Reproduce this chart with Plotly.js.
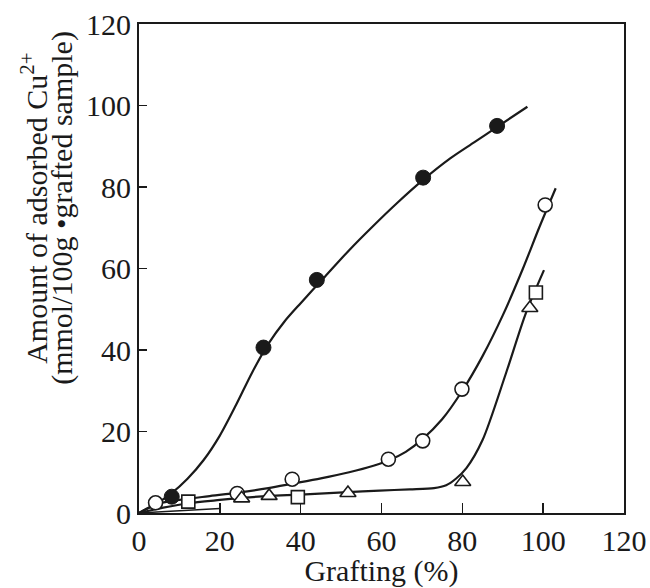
<!DOCTYPE html>
<html>
<head>
<meta charset="utf-8">
<script src="https://cdn.plot.ly/plotly-3.0.1.min.js"></script>
<style>html,body{margin:0;padding:0;background:#fff;}#chart{width:650px;height:588px;}</style>
</head>
<body>
<div id="chart"></div>
<script>
// Measured points
const filledX = [8.1, 30.8, 44.0, 70.3, 88.6];
const filledY = [4.0, 40.6, 57.2, 82.3, 95.0];
const openX = [4.1, 24.3, 37.9, 61.7, 70.2, 79.9, 100.5];
const openY = [2.5, 4.8, 8.3, 13.2, 17.7, 30.4, 75.6];
const squareX = [12.2, 39.3, 98.2];
const squareY = [2.8, 3.9, 54.1];
const triX = [25.4, 32.2, 51.7, 80.1, 96.7];
const triY = [3.6, 4.2, 4.9, 7.6, 50.3];

// Fitted curves
const fitFilledX = [0, 4, 8, 12, 16, 20, 24, 28, 32, 36, 40, 46, 52, 58, 64, 70, 77, 83, 89, 96.1];
const fitFilledY = [0, 2.1, 4.8, 8.4, 13.0, 19.0, 26.5, 34.5, 41.5, 47.0, 51.5, 58.0, 64.5, 70.5, 76.2, 81.5, 87.0, 91.0, 95.0, 99.7];
const fitOpenX = [0, 4, 10, 17, 24.5, 32, 38, 45, 52, 58, 62, 66, 70, 75, 80, 85, 90, 95, 99, 103.1];
const fitOpenY = [0, 2.1, 3.2, 4.1, 5.0, 6.1, 7.2, 8.5, 10.0, 11.6, 13.0, 15.0, 18.0, 23.0, 30.0, 38.5, 48.5, 60.0, 70.0, 79.7];
const fitLowX = [0, 6, 12.2, 20, 25.4, 32.2, 40, 51.7, 59.5, 67, 73, 76, 78.4, 81, 85, 90.8, 95.7, 100.2];
const fitLowY = [0, 1.3, 2.4, 3.2, 3.7, 4.2, 4.5, 5.1, 5.5, 5.8, 6.1, 6.8, 8.4, 11.0, 17.9, 34.3, 49.0, 59.6];
const fitBaseX = [0, 8, 16, 20];
const fitBaseY = [0, 0.5, 0.9, 1.1];

const xTicks = [0, 20, 40, 60, 80, 100, 120];
const yTicks = [0, 20, 40, 60, 80, 100, 120];

const lineStyle = {color: '#1a1a1a', width: 2.2, shape: 'spline', smoothing: 0.8};
const traces = [
  {x: fitBaseX, y: fitBaseY, mode: 'lines', line: {color: '#1a1a1a', width: 1.5}, hoverinfo: 'skip'},
  {x: fitFilledX, y: fitFilledY, mode: 'lines', line: lineStyle},
  {x: fitOpenX, y: fitOpenY, mode: 'lines', line: lineStyle},
  {x: fitLowX, y: fitLowY, mode: 'lines', line: lineStyle},
  {x: filledX, y: filledY, mode: 'markers', marker: {symbol: 'circle', size: 15, color: '#1a1a1a', line: {color: '#1a1a1a', width: 1}}},
  {x: openX, y: openY, mode: 'markers', marker: {symbol: 'circle', size: 14, color: '#ffffff', line: {color: '#1a1a1a', width: 1.6}}},
  {x: squareX, y: squareY, mode: 'markers', marker: {symbol: 'square', size: 13, color: '#ffffff', line: {color: '#1a1a1a', width: 1.6}}},
  {x: triX, y: triY, mode: 'markers', marker: {symbol: 'triangle-up', size: 14, color: '#ffffff', line: {color: '#1a1a1a', width: 1.6}}}
];

const font = {family: '"Liberation Serif", "Times New Roman", serif', color: '#1a1a1a'};
const layout = {
  width: 650, height: 588,
  margin: {l: 139, r: 26, t: 24, b: 75},
  paper_bgcolor: '#fff', plot_bgcolor: '#fff',
  showlegend: false,
  font: Object.assign({size: 30}, font),
  xaxis: {
    range: [0, 120], tickvals: xTicks, ticktext: xTicks.map(String),
    ticks: 'inside', ticklen: 10, tickwidth: 1.5, tickcolor: '#1a1a1a',
    showline: true, linecolor: '#1a1a1a', linewidth: 2, mirror: true,
    showgrid: false, zeroline: false,
    tickfont: Object.assign({size: 30}, font),
    title: {text: 'Grafting (%)', font: Object.assign({size: 30}, font), standoff: 2}
  },
  yaxis: {
    range: [0, 120], tickvals: yTicks, ticktext: yTicks.map(String),
    ticks: 'inside', ticklen: 8, tickwidth: 1.5, tickcolor: '#1a1a1a',
    showline: true, linecolor: '#1a1a1a', linewidth: 2, mirror: true,
    showgrid: false, zeroline: false,
    tickfont: Object.assign({size: 30}, font)
  },
  annotations: [
    {
      xref: 'paper', yref: 'paper', x: -0.2165, y: 0.624,
      xanchor: 'center', yanchor: 'middle', textangle: -90, showarrow: false,
      text: 'Amount of adsorbed Cu<sup>2+</sup>',
      font: Object.assign({size: 30}, font)
    },
    {
      xref: 'paper', yref: 'paper', x: -0.1588, y: 0.624,
      xanchor: 'center', yanchor: 'middle', textangle: -90, showarrow: false,
      text: '(mmol/100g •grafted sample)',
      font: Object.assign({size: 30}, font)
    }
  ]
};
Plotly.newPlot('chart', traces, layout, {displayModeBar: false, staticPlot: true});
</script>
</body>
</html>
